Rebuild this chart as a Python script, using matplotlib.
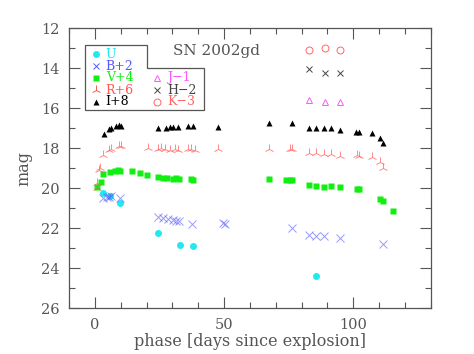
import matplotlib
matplotlib.use("Agg")
import matplotlib.pyplot as plt
from matplotlib.patches import Polygon
from matplotlib.ticker import MultipleLocator

plt.rcParams['font.family'] = ['DejaVu Serif']

# plotted values (already shifted by the offsets in the legend)
u_t = [3.3, 5.8, 9.8, 24.3, 33.0, 37.9, 85.5]
u_m = [20.25, 20.37, 20.75, 22.23, 22.82, 22.88, 24.4]

b_t = [3.3, 4.6, 5.6, 6.2, 9.8, 24.3, 26.2, 28.2, 30.1, 31.4, 32.7, 37.6,
       49.6, 50.5, 76.3, 82.8, 85.5, 88.7, 94.8, 111.4]
b_m = [20.47, 20.42, 20.45, 20.38, 20.5, 21.45, 21.5, 21.55, 21.6, 21.62, 21.65, 21.8,
       21.72, 21.76, 22.0, 22.33, 22.4, 22.38, 22.5, 22.8]

v_t = [1.0, 2.2, 3.3, 5.8, 7.9, 8.9, 9.8, 14.4, 17.3, 20.3, 24.3, 26.2, 27.8,
       30.1, 31.6, 32.7, 37.2, 38.0, 67.3, 74.1, 75.4, 76.3, 82.9, 85.5, 88.7,
       91.4, 94.8, 101.3, 102.3, 110.3, 111.5, 115.4]
v_m = [19.92, 19.7, 19.3, 19.2, 19.12, 19.1, 19.15, 19.15, 19.22, 19.33, 19.45,
       19.47, 19.5, 19.52, 19.5, 19.52, 19.52, 19.58, 19.55, 19.57, 19.6, 19.6,
       19.82, 19.88, 19.93, 19.9, 19.93, 20.05, 20.03, 20.53, 20.65, 21.12]

r_t = [0.8, 0.9, 1.7, 1.9, 3.3, 5.5, 6.4, 9.2, 10.2, 20.4, 24.4, 25.5, 27.3,
       28.9, 30.9, 32.3, 35.9, 37.3, 38.6, 47.6, 67.3, 75.4, 76.3, 82.9, 85.5,
       88.7, 91.4, 94.8, 101.3, 102.3, 107.3, 110.3, 111.4]
r_m = [20.0, 19.75, 19.1, 19.0, 18.33, 18.08, 18.05, 17.88, 17.9, 18.0, 18.03,
       18.0, 18.05, 18.08, 18.05, 18.08, 18.05, 18.05, 18.07, 18.03, 18.05,
       18.05, 18.05, 18.22, 18.25, 18.28, 18.3, 18.38, 18.35, 18.38, 18.45,
       18.67, 19.0]

i_t = [3.6, 5.5, 6.2, 8.1, 9.2, 10.2, 24.4, 27.5, 28.9, 30.1, 32.0, 35.9,
       37.9, 47.6, 67.3, 76.3, 82.9, 85.5, 88.7, 91.4, 94.8, 101.0, 102.3,
       107.3, 110.3, 111.4]
i_m = [17.3, 17.05, 17.0, 16.87, 16.85, 16.88, 16.97, 16.97, 16.95, 16.95,
       16.95, 16.87, 16.87, 16.92, 16.75, 16.75, 16.97, 16.97, 17.0, 17.0,
       17.08, 17.17, 17.2, 17.22, 17.5, 17.72]

nir_t = [82.9, 88.9, 94.8]
j_m = [15.58, 15.67, 15.67]
h_m = [14.05, 14.25, 14.25]
k_m = [13.08, 13.0, 13.08]

c_u = '#22e8f0'
c_b = '#5555ff'
c_v = '#11ee11'
c_r = '#ff5555'
c_i = 'black'
c_j = '#ff55ff'
c_h = '#444444'
c_k = '#ff6666'
gray = '#555555'
tcol = '#555555'

fig = plt.figure(figsize=(4.74, 3.54), dpi=100)
ax = fig.add_axes([0.1456, 0.129, 0.7631, 0.791])

ax.plot(u_t, u_m, 'o', color=c_u, ms=5, mec='none')
ax.plot(b_t, b_m, 'x', color=c_b, ms=6, mew=0.7, alpha=0.6)
ax.plot(v_t, v_m, 's', color=c_v, ms=4.3, mec='none')
ax.plot(r_t, r_m, '2', color=c_r, ms=7, mew=0.7, alpha=0.7)
ax.plot(i_t, i_m, '^', color=c_i, ms=4.5, mec='none')
ax.plot(nir_t, j_m, '^', color=c_j, ms=5, mfc='none', mew=0.7)
ax.plot(nir_t, h_m, 'x', color=c_h, ms=4, mew=0.7)
ax.plot(nir_t, k_m, 'o', color=c_k, ms=5, mfc='none', mew=0.7)

ax.set_xlim(-10, 130)
ax.set_ylim(26, 12)
ax.xaxis.set_major_locator(MultipleLocator(50))
ax.xaxis.set_minor_locator(MultipleLocator(10))
ax.yaxis.set_major_locator(MultipleLocator(2))
ax.yaxis.set_minor_locator(MultipleLocator(1))
ax.tick_params(which='both', direction='in', top=True, right=True,
               colors=gray, labelcolor=tcol, labelsize=10.5, pad=7)
ax.tick_params(which='major', length=8, width=0.8)
ax.tick_params(which='minor', length=4, width=0.8)
for s in ax.spines.values():
    s.set_color(gray)
    s.set_linewidth(0.9)

ax.set_xlabel('phase [days since explosion]', fontsize=11.5, color=tcol, labelpad=1)
ax.set_ylabel('mag', fontsize=11.5, color=tcol, labelpad=6)

ax.text(0.287, 0.92, 'SN 2002gd', transform=ax.transAxes, fontsize=11,
        color=tcol, ha='left', va='center')

# legend box (L-shaped), in axes fraction
def px(x, y):
    return ((x - 69.3) / 361.4, (308.3 - y) / 280.0)

box = [px(85.7, 44.7), px(147, 44.7), px(147, 68), px(204, 68),
       px(204, 110), px(85.7, 110)]
ax.add_patch(Polygon(box, closed=True, fill=False, ec=gray, lw=0.9,
                     transform=ax.transAxes))

col1 = [('U', c_u, 'o', dict(ms=5, mec='none')),
        ('B+2', c_b, 'x', dict(ms=5, mew=0.7)),
        ('V+4', c_v, 's', dict(ms=4, mec='none')),
        ('R+6', c_r, '2', dict(ms=7, mew=0.7)),
        ('I+8', c_i, '^', dict(ms=4.5, mec='none'))]
rows = [54.3, 66.0, 77.7, 90.0, 101.7]
for (lab, c, m, kw), y in zip(col1, rows):
    ax.plot(*px(96, y), m, color=c, transform=ax.transAxes, clip_on=False, **kw)
    ax.text(*px(106, y), lab, color=c, fontsize=9, va='center', ha='left',
            transform=ax.transAxes)

col2 = [('J\u22121', c_j, '^', dict(ms=5, mfc='none', mew=0.7)),
        ('H\u22122', c_h, 'x', dict(ms=4, mew=0.7)),
        ('K\u22123', c_k, 'o', dict(ms=5, mfc='none', mew=0.7))]
for (lab, c, m, kw), y in zip(col2, rows[2:]):
    ax.plot(*px(157.7, y), m, color=c, transform=ax.transAxes, clip_on=False, **kw)
    ax.text(*px(167, y), lab, color=c, fontsize=9, va='center', ha='left',
            transform=ax.transAxes)

fig.savefig('out.png', dpi=100)
